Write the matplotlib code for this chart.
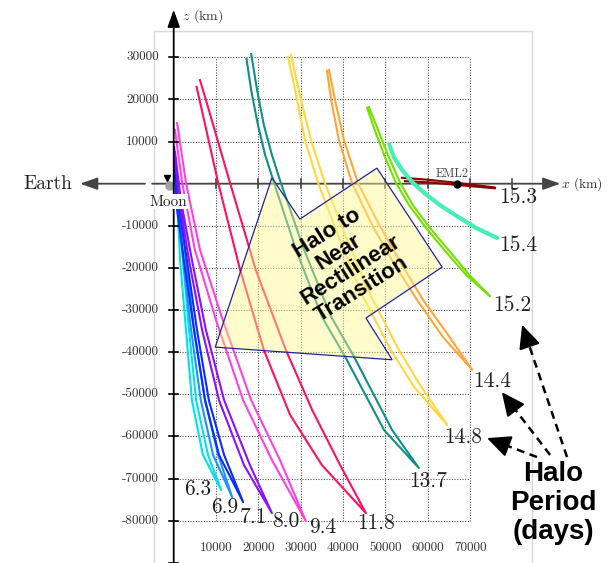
import numpy as np
import matplotlib
matplotlib.use("Agg")
import matplotlib.pyplot as plt
from matplotlib.patches import Polygon, Rectangle, Circle

plt.rcParams['mathtext.fontset'] = 'cm'
plt.rcParams['axes.unicode_minus'] = False

# ---- halo orbit traces (x, z in km), two branches per orbit ----
p63_out_x = [500, 1300, 2200, 3600, 5300, 8100, 11200]
p63_out_z = [4400, -3900, -18100, -34700, -51400, -64400, -72700]
p63_in_x = [300, 800, 1500, 2900, 4300, 6900, 11200]
p63_in_z = [3300, -3900, -18100, -34700, -51400, -64400, -72700]

p69_out_x = [300, 1300, 2900, 4800, 7400, 10500, 13800]
p69_out_z = [6800, -3900, -18100, -34700, -51400, -64400, -74400]
p69_in_x = [300, 800, 2200, 4100, 6400, 9300, 13800]
p69_in_z = [5600, -3900, -18100, -34700, -51400, -64400, -74400]

p71_out_x = [100, 1000, 3100, 5500, 8300, 11900, 16400]
p71_out_z = [8700, -3900, -18100, -34700, -51400, -64400, -75600]
p71_in_x = [100, 500, 2400, 4800, 7400, 10700, 16400]
p71_in_z = [7500, -3900, -18100, -34700, -51400, -64400, -75600]

p80_out_x = [300, 1700, 4300, 7600, 11900, 18000, 23200]
p80_out_z = [7500, -3900, -18100, -34700, -51400, -66800, -78200]
p80_in_x = [300, 1300, 3600, 6700, 10700, 16600, 23200]
p80_in_z = [6300, -3900, -18100, -34700, -51400, -66800, -78200]

p94_out_x = [800, 2900, 6200, 11600, 18300, 25100, 31200]
p94_out_z = [14400, 200, -15700, -32400, -51400, -65600, -80100]
p94_in_x = [300, 2000, 5000, 10000, 16400, 23200, 31200]
p94_in_z = [12700, 200, -15700, -32400, -51400, -65600, -80100]

p118_out_x = [6200, 7600, 13300, 19400, 26500, 32700, 39300, 45400]
p118_out_z = [24600, 19900, 200, -20500, -39500, -53700, -66800, -78200]
p118_in_x = [5400, 6100, 10500, 15700, 21300, 27500, 35000, 45400]
p118_in_z = [23000, 19900, 200, -20500, -39500, -54900, -66800, -78200]

p137_out_x = [18300, 19700, 21300, 23200, 25300, 30800, 37200, 42600, 51600, 57900]
p137_out_z = [30800, 22200, 13900, 6800, 200, -15700, -31600, -41100, -58500, -67500]
p137_in_x = [17200, 18300, 19900, 21600, 23700, 28900, 35000, 40500, 49700, 57900]
p137_in_z = [29600, 22200, 13900, 6800, 200, -15700, -31600, -41100, -58500, -67500]

p148_out_x = [27700, 29800, 32400, 35700, 40500, 46400, 53200, 58200, 64600]
p148_out_z = [30600, 21100, 10400, 200, -12200, -26400, -39500, -47800, -57300]
p148_in_x = [27000, 28900, 31000, 34100, 38800, 44500, 51300, 56800, 64600]
p148_in_z = [30100, 21100, 10400, 200, -12200, -26400, -39500, -48300, -57300]

p144_out_x = [36700, 38100, 40200, 43500, 48300, 53500, 58900, 64800, 70500]
p144_out_z = [27000, 19900, 10400, 200, -9300, -18600, -27600, -35900, -44200]
p144_in_x = [36200, 37200, 39000, 42100, 46600, 51800, 57500, 63600, 70500]
p144_in_z = [26800, 19900, 10400, 200, -9300, -18600, -27600, -36400, -44200]

p152_out_x = [46100, 48300, 50600, 53500, 56500, 60500, 65300, 70000, 74700]
p152_out_z = [18200, 12700, 6800, 200, -5100, -10500, -16200, -21900, -26700]
p152_in_x = [45700, 47500, 49700, 52500, 55600, 59600, 64300, 69300, 74700]
p152_in_z = [18000, 12700, 6800, 200, -5100, -10500, -16200, -21900, -26700]

p154_x = [50900, 52000, 53900, 56500, 59400, 62900, 66900, 71400, 76400]
p154_z = [9400, 6300, 3300, 200, -2400, -5100, -7700, -10500, -12900]

p153_out_x = [53900, 60500, 66900, 75900]
p153_out_z = [1400, 900, 200, -900]
p153_in_x = [54600, 60500, 66900, 75900]
p153_in_z = [600, 300, -300, -1100]

# period labels and their positions (km)
period_text = ["6.3", "6.9", "7.1", "8.0", "9.4", "11.8", "13.7",
               "14.8", "14.4", "15.2", "15.4", "15.3"]
period_x = [5700, 12000, 18800, 26500, 35300, 47900, 60100,
            68300, 75200, 79900, 81300, 81300]
period_z = [-72500, -76900, -79200, -80100, -81500, -80600, -70600,
            -60100, -46800, -28800, -14600, -3300]

# transition region outline (km)
region_x = [23200, 29800, 48000, 63400, 45400, 51600, 9800]
region_z = [1400, -8400, 3700, -19800, -31900, -41800, -38800]

# axis ticks
x_ticks = [10000, 20000, 30000, 40000, 50000, 60000, 70000]
z_ticks = [30000, 20000, 10000, -10000, -20000, -30000, -40000,
           -50000, -60000, -70000, -80000]

eml2_x, eml2_z = 66900, 0

serif = 'cmr10'

fig = plt.figure(figsize=(6.07, 5.63), dpi=100)
ax = fig.add_axes([0, 0, 1, 1])
ax.set_xlim(-41030, 102340)
ax.set_ylim(-90050, 43610)
ax.axis('off')

# light frame
ax.add_patch(Rectangle((-4650, -95000), 89280, 131250, fill=False,
                       edgecolor='#d9d9d9', lw=1.0, zorder=0))

# dotted grid
for xv in x_ticks:
    ax.plot([xv, xv], [-80000, 30000], color='#555555', lw=0.8,
            ls=(0, (1, 1.4)), zorder=1)
for zv in z_ticks:
    ax.plot([0, 70000], [zv, zv], color='#555555', lw=0.8,
            ls=(0, (1, 1.4)), zorder=1)

# orbits
orbits = [
    (p63_out_x, p63_out_z, p63_in_x, p63_in_z, '#00e1f0'),
    (p69_out_x, p69_out_z, p69_in_x, p69_in_z, '#1e90ff'),
    (p71_out_x, p71_out_z, p71_in_x, p71_in_z, '#0a2cff'),
    (p80_out_x, p80_out_z, p80_in_x, p80_in_z, '#8a10ff'),
    (p94_out_x, p94_out_z, p94_in_x, p94_in_z, '#ff40e0'),
    (p118_out_x, p118_out_z, p118_in_x, p118_in_z, '#ff1060'),
    (p137_out_x, p137_out_z, p137_in_x, p137_in_z, '#0e8f8a'),
    (p148_out_x, p148_out_z, p148_in_x, p148_in_z, '#ffd83a'),
    (p144_out_x, p144_out_z, p144_in_x, p144_in_z, '#ffa535'),
    (p152_out_x, p152_out_z, p152_in_x, p152_in_z, '#74e000'),
    (p153_out_x, p153_out_z, p153_in_x, p153_in_z, '#8b0000'),
]
for ox, oz, ix, iz, col in orbits:
    xs = np.concatenate([ox, ix[::-1]])
    zs = np.concatenate([oz, iz[::-1]])
    ax.plot(xs, zs, color=col, lw=1.5, zorder=3, solid_joinstyle='round')
ax.plot(p154_x, p154_z, color='#45f0b5', lw=3.0, zorder=3,
        solid_capstyle='round')

# transition region
ax.add_patch(Polygon(np.column_stack([region_x, region_z]), closed=True,
                     facecolor=(1.0, 0.97, 0.55), alpha=0.45,
                     edgecolor='none', zorder=4))
ax.add_patch(Polygon(np.column_stack([region_x, region_z]), closed=True,
                     fill=False, edgecolor='#22229a', lw=0.9, zorder=5))
ax.text(40400, -18400, "Halo to\nNear\nRectilinear\nTransition",
        rotation=32, ha='center', va='center', multialignment='center',
        rotation_mode='anchor', fontsize=16, fontweight='bold',
        family='Liberation Sans', linespacing=1.05, zorder=6)

# axes with arrows
arrow_kw = dict(arrowstyle='-|>,head_length=0.7,head_width=0.25',
                color='black', lw=1.3, mutation_scale=15,
                shrinkA=0, shrinkB=0)
ax.annotate('', xy=(0, 41300), xytext=(0, -90500), arrowprops=arrow_kw,
            zorder=7)
ax.annotate('', xy=(91300, 0), xytext=(-5100, 0),
            arrowprops=dict(arrow_kw, color='#444444'), zorder=2)
ax.annotate('', xy=(-22100, 0), xytext=(-6800, 0),
            arrowprops=dict(arrow_kw, color='#444444'), zorder=2)

for zv in z_ticks + [-90000]:
    ax.plot([-1000, 1000], [zv, zv], color='black', lw=1.2, zorder=7)
    if zv != -90000:
        ax.text(-3500, zv, str(zv), ha='right', va='center', fontsize=9.5,
                family=serif, color='#333333')
for xv in x_ticks + [80000]:
    ax.plot([xv, xv], [-1000, 1000], color='#444444', lw=1.2, zorder=2)
for xv in x_ticks:
    ax.text(xv, -86500, str(xv), ha='center', va='center', fontsize=9.5,
            family=serif, color='#333333')

ax.text(1900, 39800, r"$z$ (km)", ha='left', va='center', fontsize=10,
        family=serif, color='#333333')
ax.text(91500, 0, r"$x$ (km)", ha='left', va='center', fontsize=9.7,
        family=serif, color='#333333')
ax.text(-29800, 0, "Earth", ha='center', va='center', fontsize=14,
        family=serif, color='#222222')

# moon
ax.add_patch(Circle((-870, -550), 950, color='#a0a0a0', zorder=6))
ax.plot([-1650], [1300], marker='v', color='black', ms=4, zorder=7)
ax.text(-1280, -4300, "Moon", ha='center', va='center', fontsize=11,
        family=serif, color='#222222', zorder=8,
        bbox=dict(facecolor='white', edgecolor='none', pad=0.5))

# EML2
ax.plot([eml2_x], [eml2_z], 'o', color='black', ms=5, zorder=8)
ax.text(65700, 2200, "EML2", ha='center', va='center', fontsize=8.8,
        family=serif, color='#444444', zorder=8)

# period labels
for t, px, pz in zip(period_text, period_x, period_z):
    ax.text(px, pz, t, ha='center', va='center', fontsize=15.5,
            family=serif, color='#222222', zorder=8)

# halo period callout
ax.text(89600, -75800, "Halo\nPeriod\n(days)", ha='center', va='center',
        multialignment='center', fontsize=20, fontweight='bold',
        family='Liberation Sans', linespacing=1.15, zorder=8)

callouts = [((85800, -64900), (74000, -60400)),
            ((88900, -64400), (77500, -49500)),
            ((92900, -64900), (82300, -33500))]
for (sx, sz), (tx, tz) in callouts:
    d = np.array([sx - tx, sz - tz], dtype=float)
    d /= np.hypot(*d)
    bx, bz = tx + d[0] * 5000, tz + d[1] * 5000
    ax.plot([sx, bx], [sz, bz], color='black', lw=1.8, ls=(0, (3.2, 2.2)),
            zorder=8)
    ax.annotate('', xy=(tx, tz), xytext=(bx, bz), zorder=8,
                arrowprops=dict(arrowstyle='-|>,head_length=0.9,head_width=0.42',
                                color='black', lw=1.5, mutation_scale=16,
                                shrinkA=0, shrinkB=0))

fig.savefig('out.png', dpi=100)
